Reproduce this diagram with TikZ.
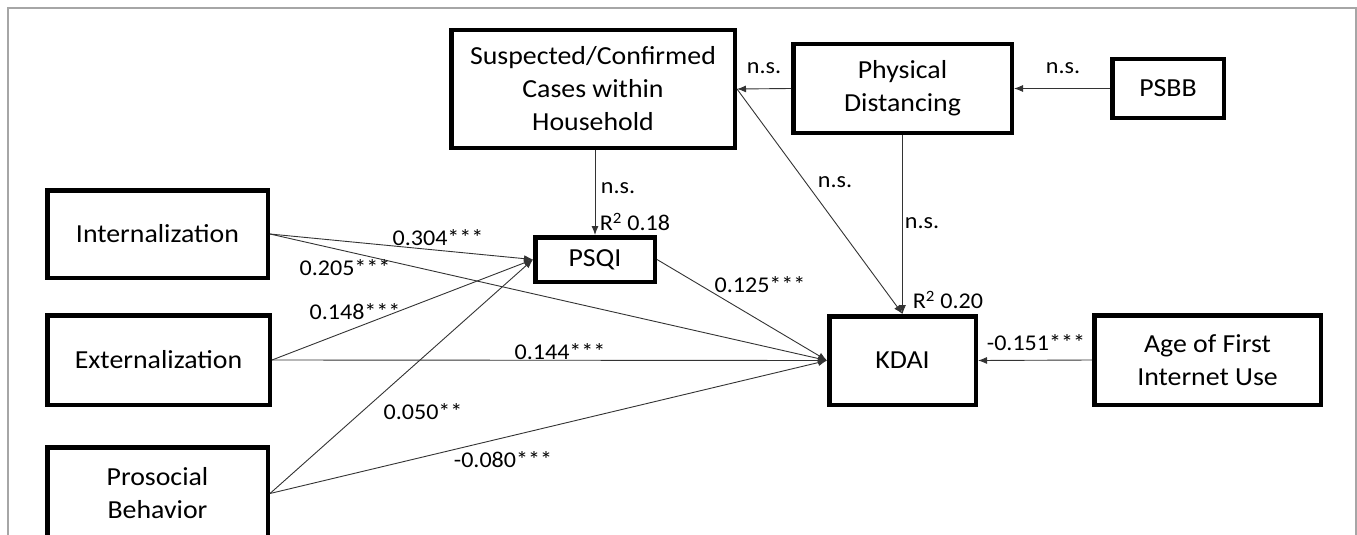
\documentclass[tikz,border=0pt]{standalone}
\usepackage{fontspec}
\setmainfont{Carlito}[FakeStretch=1.07]
\usetikzlibrary{arrows.meta}
\begin{document}
\begin{tikzpicture}[x=1pt,y=-1pt,
  box/.style={draw, line width=4.5pt, align=center, inner sep=0pt, font=\fontsize{26}{33}\selectfont},
  lab/.style={font=\fontsize{22.5}{24}\selectfont, inner sep=0pt},
  conn/.style={draw=black!80, line width=0.9pt, -{Latex[length=9pt,width=7pt]}}]
\clip (0,0) rectangle (1357,535);
\draw[gray!70, line width=2pt] (8,545) -- (8,8) -- (1356,8) -- (1356,545);
% boxes
\node[box, minimum width=283.5pt, minimum height=117.5pt] (susp) at (593,89) {Suspected/Confirmed\\Cases within\\Household};
\node[box, minimum width=218.5pt, minimum height=88.5pt] (pd) at (902.5,88.5) {Physical\\Distancing};
\node[box, minimum width=111.5pt, minimum height=58.5pt] (psbb) at (1168,88.5) {PSBB};
\node[box, minimum width=220.5pt, minimum height=87.5pt] (int) at (157.5,234) {Internalization};
\node[box, minimum width=119.5pt, minimum height=44.5pt] (psqi) at (595,259.5) {PSQI};
\node[box, minimum width=222.5pt, minimum height=89.5pt] (ext) at (158.5,360) {Externalization};
\node[box, minimum width=146.5pt, minimum height=88.5pt] (kdai) at (902.5,360.5) {KDAI};
\node[box, minimum width=226.5pt, minimum height=89.5pt] (age) at (1207.5,360) {Age of First\\Internet Use};
\node[box, minimum width=220.5pt, minimum height=92.5pt] (pro) at (157.5,493.5) {Prosocial\\Behavior};
% connectors
\draw[conn] (pd.west) -- (susp.east);
\draw[conn] (psbb.west) -- (pd.east);
\draw[conn] (psqi.north |- susp.south) -- (psqi.north);
\draw[conn] (susp.east) -- (kdai.north);
\draw[conn] (pd.south) -- (kdai.north);
\draw[conn] (int.east) -- (psqi.west);
\draw[conn] (int.east) -- (kdai.west);
\draw[conn] (ext.east) -- (psqi.west);
\draw[conn] (ext.east) -- (kdai.west);
\draw[conn] (pro.east) -- (psqi.west);
\draw[conn] (pro.east) -- (kdai.west);
\draw[conn] (psqi.east) -- (kdai.west);
\draw[conn] (age.west) -- (kdai.east);
% labels
\node[lab] (l1) at (764,68) {n.s.};
\node[lab] (l2) at (1063,68) {n.s.};
\node[lab] (l3) at (618,188) {n.s.};
\node[lab] (l4) at (835,182) {n.s.};
\node[lab] (l5) at (922,223) {n.s.};
\node[lab] (l6) at (438,238) {0.304***};
\node[lab] (l7) at (345,268) {0.205***};
\node[lab] (l8) at (355,312) {0.148***};
\node[lab] (l9) at (560,352) {0.144***};
\node[lab] (l10) at (423,412) {0.050**};
\node[lab] (l11) at (503,460) {-0.080***};
\node[lab] (l12) at (760,285) {0.125***};
\node[lab] (l13) at (1036,343) {-0.151***};
\node[lab] (r1) at (635,222) {R\textsuperscript{2} 0.18};
\node[lab] (r2) at (948,300) {R\textsuperscript{2} 0.20};
\end{tikzpicture}
\end{document}
